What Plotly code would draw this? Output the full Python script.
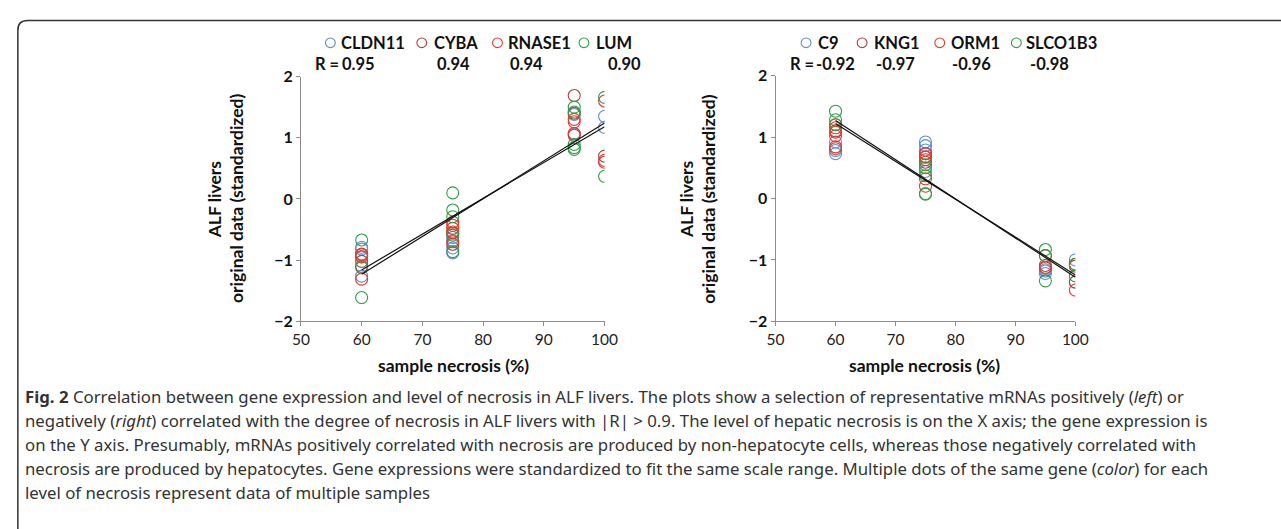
import plotly.graph_objects as go

W, H = 1281, 529

# ---------------- data ----------------
left_genes = ["CLDN11", "CYBA", "RNASE1", "LUM"]
left_r = ["0.95", "0.94", "0.94", "0.90"]
right_genes = ["C9", "KNG1", "ORM1", "SLCO1B3"]
right_r = ["-0.92", "-0.97", "-0.96", "-0.98"]
gene_colors = ["#5b8fd6", "#b0413e", "#e8392d", "#2e9e45"]

cldn11_x = [60, 60, 60, 60, 75, 75, 75, 75, 95, 95, 100, 100]
cldn11_y = [-0.79, -0.82, -0.95, -1.26, -0.63, -0.80, -0.88, -0.68, 1.38, 1.06, 1.35, 1.17]
cyba_x = [60, 60, 60, 75, 75, 75, 95, 95, 95, 100, 100]
cyba_y = [-1.02, -1.10, -0.90, -0.48, -0.74, -0.56, 1.69, 1.40, 1.04, 0.70, 0.60]
rnase1_x = [60, 60, 60, 75, 75, 75, 75, 95, 95, 95, 100, 100]
rnase1_y = [-0.91, -0.94, -1.31, -0.38, -0.43, -0.54, -0.70, 1.30, 1.26, 1.07, 1.60, 0.63]
lum_x = [60, 60, 60, 75, 75, 75, 75, 75, 95, 95, 95, 95, 95, 100, 100]
lum_y = [-0.67, -1.12, -1.61, 0.10, -0.18, -0.29, -0.59, -0.86, 1.50, 1.42, 0.89, 0.84, 0.81, 1.66, 0.37]

c9_x = [60, 60, 60, 75, 75, 75, 75, 95, 95, 95, 100, 100]
c9_y = [0.92, 0.73, 0.78, 0.92, 0.86, 0.79, 0.44, -1.16, -1.22, -1.18, -1.00, -1.36]
kng1_x = [60, 60, 75, 75, 75, 95, 95, 100, 100]
kng1_y = [0.84, 1.10, 0.68, 0.59, 0.73, -1.09, -1.12, -1.10, -1.36]
orm1_x = [60, 60, 60, 60, 60, 75, 75, 75, 75, 75, 95, 95, 100, 100]
orm1_y = [1.20, 1.15, 1.02, 0.81, 1.08, 0.73, 0.63, 0.32, 0.20, 0.67, -0.93, -1.13, -1.07, -1.49]
slco1b3_x = [60, 60, 60, 75, 75, 75, 75, 75, 95, 95, 95, 100, 100]
slco1b3_y = [1.42, 1.28, 1.20, 0.55, 0.50, 0.37, 0.07, 0.08, -0.83, -0.93, -1.34, -1.07, -1.26]

trend_x = [60, 100]
left_trend_a = [-1.16, 1.18]
left_trend_b = [-1.23, 1.24]
right_trend_a = [1.27, -1.28]
right_trend_b = [1.22, -1.245]

x_ticks = [50, 60, 70, 80, 90, 100]
y_ticks = [-2, -1, 0, 1, 2]

caption_lines = [
    "<b>Fig. 2</b> Correlation between gene expression and level of necrosis in ALF livers. The plots show a selection of representative mRNAs positively (<i>left</i>) or",
    "negatively (<i>right</i>) correlated with the degree of necrosis in ALF livers with |R| &gt; 0.9. The level of hepatic necrosis is on the X axis; the gene expression is",
    "on the Y axis. Presumably, mRNAs positively correlated with necrosis are produced by non-hepatocyte cells, whereas those negatively correlated with",
    "necrosis are produced by hepatocytes. Gene expressions were standardized to fit the same scale range. Multiple dots of the same gene (<i>color</i>) for each",
    "level of necrosis represent data of multiple samples",
]

# ---------------- helpers ----------------
def px(x):
    return x / W

def py(y):
    return 1 - y / H

CHART_FONT = "Lato, 'Open Sans', sans-serif"
CAP_FONT = "'Noto Sans', sans-serif"

fig = go.Figure()

left_series = [(cldn11_x, cldn11_y), (cyba_x, cyba_y), (rnase1_x, rnase1_y), (lum_x, lum_y)]
right_series = [(c9_x, c9_y), (kng1_x, kng1_y), (orm1_x, orm1_y), (slco1b3_x, slco1b3_y)]

for (xs, ys), name, col in zip(left_series, left_genes, gene_colors):
    fig.add_trace(go.Scatter(x=xs, y=ys, mode="markers", name=name, xaxis="x", yaxis="y",
                             marker=dict(symbol="circle-open", size=12, color=col, line=dict(width=1.1))))
for (xs, ys), name, col in zip(right_series, right_genes, gene_colors):
    fig.add_trace(go.Scatter(x=xs, y=ys, mode="markers", name=name, xaxis="x2", yaxis="y2",
                             marker=dict(symbol="circle-open", size=12, color=col, line=dict(width=1.1))))

for ys in (left_trend_a, left_trend_b):
    fig.add_trace(go.Scatter(x=trend_x, y=ys, mode="lines", xaxis="x", yaxis="y",
                             line=dict(color="#111111", width=1.2), hoverinfo="skip"))
for ys in (right_trend_a, right_trend_b):
    fig.add_trace(go.Scatter(x=trend_x, y=ys, mode="lines", xaxis="x2", yaxis="y2",
                             line=dict(color="#111111", width=1.2), hoverinfo="skip"))

axis_common = dict(showgrid=False, zeroline=False, showline=True, linecolor="#8c8c8c", linewidth=1,
                   ticks="outside", ticklen=4, tickcolor="#8c8c8c", fixedrange=True)
xtickfont = dict(family=CHART_FONT, size=15.5, color="#222")
ytickfont = dict(family=CHART_FONT, size=16, color="#111", weight="bold")

fig.update_layout(
    width=W, height=H,
    margin=dict(l=0, r=0, t=0, b=0),
    paper_bgcolor="white", plot_bgcolor="white",
    showlegend=False,
    xaxis=dict(domain=[px(297), px(606)], range=[50, 100], tickvals=x_ticks, anchor="y",
               tickfont=xtickfont, **axis_common),
    yaxis=dict(domain=[py(323), py(69)], range=[-2, 2], tickvals=y_ticks, anchor="x",
               tickfont=ytickfont, **axis_common),
    xaxis2=dict(domain=[px(780), px(1085)], range=[50, 100], tickvals=x_ticks, anchor="y2",
                tickfont=xtickfont, **axis_common),
    yaxis2=dict(domain=[py(323), py(68)], range=[-2, 2], tickvals=y_ticks, anchor="x2",
                tickfont=ytickfont, **axis_common),
)

ann = []
shapes = []

def text(x, y, s, size=16.5, bold=True, xanchor="left", angle=0, font=CHART_FONT, color="#111"):
    ann.append(dict(x=px(x), y=py(y), xref="paper", yref="paper", text=s, showarrow=False,
                    xanchor=xanchor, yanchor="middle", textangle=angle,
                    font=dict(family=font, size=size, color=color, weight="bold" if bold else "normal")))

def circle(cx, cy, col, r=5):
    shapes.append(dict(type="circle", xref="paper", yref="paper",
                       x0=px(cx - r), x1=px(cx + r), y0=py(cy + r), y1=py(cy - r),
                       line=dict(color=col, width=1.1)))

# legends
left_leg_marker_x = [327, 420, 497, 585]
left_leg_text_x = [336, 430, 506, 595]
left_r_x = [337, 433, 508, 607]
for g, c, mx, tx in zip(left_genes, gene_colors, left_leg_marker_x, left_leg_text_x):
    circle(mx, 34, c)
    text(tx, 34, g)
text(309, 56, "R =")
for r, rx in zip(left_r, left_r_x):
    text(rx, 56, r)

right_leg_marker_x = [811, 868, 947, 1025]
right_leg_text_x = [821, 878, 956, 1033]
right_r_x = [819, 880, 957, 1037]
for g, c, mx, tx in zip(right_genes, gene_colors, right_leg_marker_x, right_leg_text_x):
    circle(mx, 34, c)
    text(tx, 34, g)
text(793, 56, "R =")
for r, rx in zip(right_r, right_r_x):
    text(rx, 56, r)

# axis titles
for cx in (452, 932):
    text(cx, 369, "sample necrosis (%)", size=17.5, xanchor="center")
for lx in (210, 690):
    text(lx, 196, "ALF livers", size=17.5, xanchor="center", angle=-90)
    text(lx + 22, 196, "original data (standardized)", size=17.5, xanchor="center", angle=-90)

# caption
for i, line in enumerate(caption_lines):
    ann.append(dict(x=px(14), y=py(401 + 24.8 * i), xref="paper", yref="paper", text=line,
                    showarrow=False, xanchor="left", yanchor="middle",
                    font=dict(family=CAP_FONT, size=16.8, color="#333")))

# border (rounded top-left corner, extends past the frame)
rr = 10
path = (f"M {px(9)},{py(540)} L {px(9)},{py(11 + rr)} "
        f"Q {px(9)},{py(11)} {px(9 + rr)},{py(11)} L {px(1300)},{py(11)}")
shapes.append(dict(type="path", xref="paper", yref="paper", path=path,
                   line=dict(color="#333", width=1.5)))

fig.update_layout(annotations=ann, shapes=shapes)
fig.write_html("out.html")
